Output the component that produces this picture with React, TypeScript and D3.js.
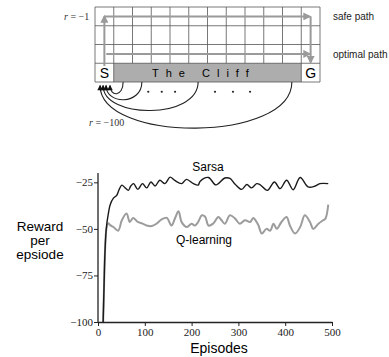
import React, { useRef, useEffect } from "react";
import * as d3 from "d3";

// Learning curves: [episode, reward per episode]
const sarsa: [number, number][] = [
  [11, -100], [13, -80], [15, -62], [18, -49], [22, -42], [26, -37], [33, -33.5],
  [40, -32], [45, -29], [51, -26.5], [58, -28], [65, -29.3], [70, -27], [76, -25.7],
  [85, -28.8], [95, -25.7], [104, -28], [113, -24.8], [122, -27], [132, -23.9],
  [143, -25.7], [154, -22.2], [164, -24], [179, -25.7], [189, -23.4], [204, -25.7],
  [214, -26.5], [218, -24.5], [236, -22.4], [252, -26.4], [271, -22.7], [282, -22.9],
  [293, -26], [307, -28.8], [318, -26.2], [328, -28], [339, -25.7], [346, -26.2],
  [362, -29.3], [377, -24.8], [389, -28.4], [403, -23.9], [417, -29], [432, -22.4],
  [449, -27.5], [464, -27], [474, -25.7], [492, -25.7],
];

const qLearning: [number, number][] = [
  [11, -100], [13, -80], [15, -62], [18, -50], [22, -47], [26, -48], [33, -49],
  [43, -51], [51, -45.4], [61, -41.8], [68, -46.3], [75, -44.1], [85, -46.3],
  [95, -47.2], [104, -48.2], [115, -48.5], [125, -47.2], [136, -44.9], [147, -44.1],
  [157, -48.2], [165, -44], [172, -40.5], [179, -46.5], [190, -49], [200, -47.2],
  [207, -48.2], [214, -46.3], [222, -42.7], [229, -43.5], [236, -48.2], [246, -47.2],
  [257, -43.6], [264, -45.4], [271, -47.2], [282, -42.7], [293, -44.5], [303, -47.2],
  [314, -45.4], [325, -46.3], [332, -44.1], [339, -46.3], [343, -48.2], [350, -52.5],
  [360, -50], [368, -51], [375, -47.2], [382, -50], [392, -46.3], [403, -43.6],
  [410, -48.2], [421, -52.5], [432, -49], [442, -42.7], [453, -46.3], [460, -50],
  [471, -47.2], [481, -45.4], [486, -44.5], [492, -37],
];

const xTicks = [0, 100, 200, 300, 400, 500];
const yTicks = [-100, -75, -50, -25];

// Gridworld: 12 columns x 4 rows, the cliff fills the bottom row between S and G
const nCols = 12;
const nRows = 4;
const cliffCols = [1, 11];
// paths in grid units [col, row]
const safePath: [number, number][][] = [
  [[0.5, 3.15], [0.5, 0.5]],
  [[0.5, 0.5], [11.45, 0.5]],
  [[11.5, 0.5], [11.5, 2.95]],
];
const optimalPath: [number, number][][] = [[[0.6, 2.5], [11.45, 2.5]]];
// falls off the cliff: source column, landing column, depth (rows)
const fallCols = [1, 2, 5, 10];
const fallEnds = [0.8, 0.59, 0.43, 0.27];
const fallDepth = [0.8, 1.23, 2.0, 3.25];
const dotCols = [2.84, 3.56, 4.27, 6.4, 7.36, 8.27];

function CliffFigure() {
  const svgRef = useRef<SVGSVGElement>(null);

  useEffect(() => {
    const svg = d3.select(svgRef.current);
    svg.selectAll("*").remove();

    const sans = "'Liberation Sans', Arial, sans-serif";
    const serif = "'Liberation Serif', 'Times New Roman', serif";

    const defs = svg.append("defs");
    defs.append("marker")
      .attr("id", "grayHead")
      .attr("viewBox", "0 0 10 10")
      .attr("refX", 8).attr("refY", 5)
      .attr("markerWidth", 4.5).attr("markerHeight", 4)
      .attr("markerUnits", "strokeWidth")
      .attr("orient", "auto")
      .append("path").attr("d", "M0,0L10,5L0,10z").attr("fill", "#9a9a9a");
    defs.append("marker")
      .attr("id", "blackHead")
      .attr("viewBox", "0 0 10 10")
      .attr("refX", 9).attr("refY", 5)
      .attr("markerWidth", 6).attr("markerHeight", 5)
      .attr("markerUnits", "strokeWidth")
      .attr("orient", "auto")
      .append("path").attr("d", "M0,0L10,5L0,10z").attr("fill", "#111");

    // ---- gridworld ----
    const gx = d3.scaleLinear().domain([0, nCols]).range([95, 320]);
    const gy = d3.scaleLinear().domain([0, nRows]).range([7, 82]);

    const grid = svg.append("g");
    grid.append("rect")
      .attr("x", gx(cliffCols[0])).attr("y", gy(3))
      .attr("width", gx(cliffCols[1]) - gx(cliffCols[0]))
      .attr("height", gy(4) - gy(3))
      .attr("fill", "#adadad");

    grid.selectAll("line.h")
      .data(d3.range(nRows + 1))
      .enter().append("line")
      .attr("x1", gx(0)).attr("x2", gx(nCols))
      .attr("y1", (d) => gy(d)).attr("y2", (d) => gy(d))
      .attr("stroke", "#555").attr("stroke-width", 0.8);
    grid.selectAll("line.v")
      .data(d3.range(nCols + 1))
      .enter().append("line")
      .attr("x1", (d) => gx(d)).attr("x2", (d) => gx(d))
      .attr("y1", gy(0))
      .attr("y2", (d) => (d === 0 || d === 1 || d >= 11 ? gy(4) : gy(3)))
      .attr("stroke", "#555").attr("stroke-width", 0.8);

    const seg = d3.line<[number, number]>().x((d) => gx(d[0])).y((d) => gy(d[1]));
    grid.selectAll("path.path")
      .data([...safePath, ...optimalPath])
      .enter().append("path")
      .attr("d", (d) => seg(d))
      .attr("fill", "none")
      .attr("stroke", "#9a9a9a")
      .attr("stroke-width", 2)
      .attr("marker-end", "url(#grayHead)");

    grid.append("text").attr("x", gx(0.5)).attr("y", gy(3.5) + 5)
      .attr("text-anchor", "middle").style("font-family", sans).attr("font-size", 14)
      .text("S");
    grid.append("text").attr("x", gx(11.5)).attr("y", gy(3.5) + 5)
      .attr("text-anchor", "middle").style("font-family", sans).attr("font-size", 14)
      .text("G");
    grid.append("text").attr("x", 152).attr("y", gy(3.5) + 4)
      .style("font-family", sans).attr("font-size", 11)
      .attr("letter-spacing", 7)
      .text("The Cliff");

    // falls from the cliff back to S
    grid.selectAll("path.fall")
      .data(fallCols)
      .enter().append("path")
      .attr("d", (c, i) => {
        const x0 = gx(c + 0.5), y0 = gy(4);
        const x1 = gx(fallEnds[i]), y1 = gy(4.18);
        const yb = gy(4 + fallDepth[i]);
        return `M${x0},${y0}C${x0},${yb} ${x1},${yb} ${x1},${y1}`;
      })
      .attr("fill", "none")
      .attr("stroke", "#222")
      .attr("stroke-width", 1.1)
      .attr("marker-end", "url(#blackHead)");

    grid.selectAll("circle.dot")
      .data(dotCols)
      .enter().append("circle")
      .attr("cx", (d) => gx(d)).attr("cy", gy(4.52))
      .attr("r", 1.1).attr("fill", "#222");

    const rLabel = (x: number, y: number, val: string) => {
      const t = grid.append("text").attr("x", x).attr("y", y)
        .style("font-family", serif).attr("font-size", 10).attr("fill", "#333");
      t.append("tspan").attr("font-style", "italic").text("r");
      t.append("tspan").text(` = ${val}`);
    };
    rLabel(64, 20, "\u22121");
    rLabel(89, 126, "\u2212100");

    grid.append("text").attr("x", 333).attr("y", 20)
      .style("font-family", sans).attr("font-size", 10).attr("fill", "#222")
      .text("safe path");
    grid.append("text").attr("x", 333).attr("y", 58)
      .style("font-family", sans).attr("font-size", 10).attr("fill", "#222")
      .text("optimal path");

    // ---- learning curves ----
    const x = d3.scaleLinear().domain([0, 500]).range([98, 332]);
    const y = d3.scaleLinear().domain([-100, -20]).range([322, 173]);

    const chart = svg.append("g");
    const line = d3.line<[number, number]>()
      .x((d) => x(d[0]))
      .y((d) => y(d[1]))
      .curve(d3.curveCatmullRom.alpha(0.5));

    chart.append("path").attr("d", line(qLearning))
      .attr("fill", "none").attr("stroke", "#9c9c9c").attr("stroke-width", 2);
    chart.append("path").attr("d", line(sarsa))
      .attr("fill", "none").attr("stroke", "#1a1a1a").attr("stroke-width", 1.4);

    const xAxis = chart.append("g")
      .attr("transform", `translate(0,${y(-100)})`)
      .call(d3.axisBottom(x).tickValues(xTicks).tickSize(4).tickSizeOuter(0).tickPadding(2)
        .tickFormat((d) => String(d)));
    const yAxis = chart.append("g")
      .attr("transform", `translate(${x(0)},0)`)
      .call(d3.axisLeft(y).tickValues(yTicks).tickSize(4).tickSizeOuter(0).tickPadding(1)
        .tickFormat((d) => `\u2212${Math.abs(d as number)}`));
    [xAxis, yAxis].forEach((a) => {
      a.attr("font-family", null).attr("font-size", null);
      a.select(".domain").attr("stroke", "#222").attr("stroke-width", 1.3);
      a.selectAll(".tick line").attr("stroke", "#222");
      a.selectAll(".tick text")
        .style("font-family", serif).style("font-size", "11px").attr("fill", "#222");
    });
    yAxis.select(".domain").attr("d", `M0,${y(-20)}V${y(-100)}`);

    chart.append("text").attr("x", 208).attr("y", 171)
      .attr("text-anchor", "middle").style("font-family", sans).attr("font-size", 12)
      .text("Sarsa");
    chart.append("text").attr("x", 204).attr("y", 244)
      .attr("text-anchor", "middle").style("font-family", sans).attr("font-size", 12)
      .text("Q-learning");

    chart.append("text").attr("x", 219).attr("y", 353)
      .attr("text-anchor", "middle").style("font-family", sans).attr("font-size", 14)
      .text("Episodes");
    chart.selectAll("text.ylab")
      .data(["Reward", "per", "epsiode"])
      .enter().append("text")
      .attr("x", 40).attr("y", (_, i) => 231 + i * 14)
      .attr("text-anchor", "middle").style("font-family", sans).attr("font-size", 13.5)
      .text((d) => d);
  }, []);

  return (
    <svg ref={svgRef} width={389} height={357}
      style={{ position: "absolute", left: 0, top: 0, background: "#fff" }} />
  );
}

export default function App() {
  return <CliffFigure />;
}
